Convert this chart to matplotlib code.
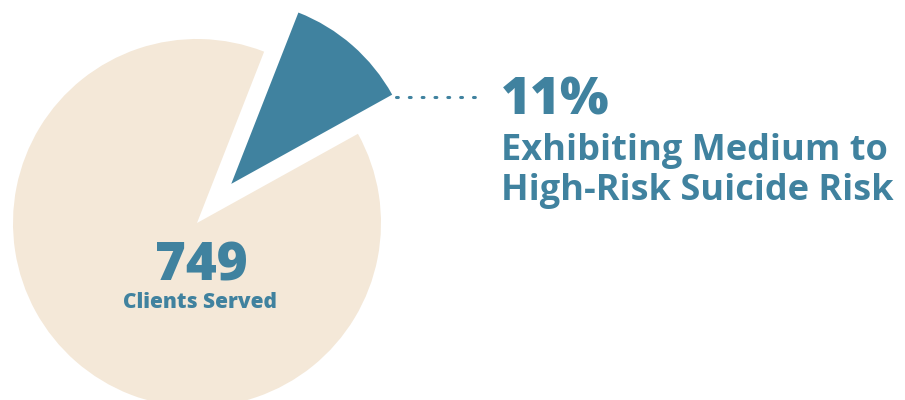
import matplotlib.pyplot as plt

# Share of clients by suicide risk level
shares = [11, 89]
colors = ['#40829f', '#f4e8d8']

clients_served = "749"
served_label = "Clients Served"
pct_label = "11%"
risk_label = "Exhibiting Medium to\nHigh-Risk Suicide Risk"

blue = '#40829f'

fig = plt.figure(figsize=(9.05, 4.0), dpi=100)
ax = fig.add_axes([0, 0, 1, 1])

# pie laid out in pixel units so it can overflow the bottom edge;
# explode is an offset in the same units
ax.pie(
    shares,
    explode=[52, 0],
    colors=colors,
    startangle=29,
    center=(197, 177),
    radius=184,
    frame=True,
    wedgeprops=dict(linewidth=0),
)
ax.set_xlim(0, 905)
ax.set_ylim(0, 400)
ax.set_aspect('equal')
ax.axis('off')

# dotted leader from the wedge to the label
ax.plot([396, 476], [303, 303], linestyle=(0, (0.6, 3.6)), color=blue,
        linewidth=2.2, dash_capstyle='round')

ax.text(501, 299, pct_label, fontsize=37, fontweight='heavy', color=blue,
        family='Open Sans', va='center', ha='left')
ax.text(501, 229, risk_label, fontsize=26, fontweight='bold', color=blue,
        family='Open Sans', va='center', ha='left', linespacing=1.17)

ax.text(201, 133, clients_served, fontsize=38, fontweight='heavy', color=blue,
        family='Open Sans', va='center', ha='center')
ax.text(200, 98, served_label, fontsize=15, fontweight='heavy', color=blue,
        family='Open Sans', va='center', ha='center')

plt.savefig('out.png', dpi=100)
